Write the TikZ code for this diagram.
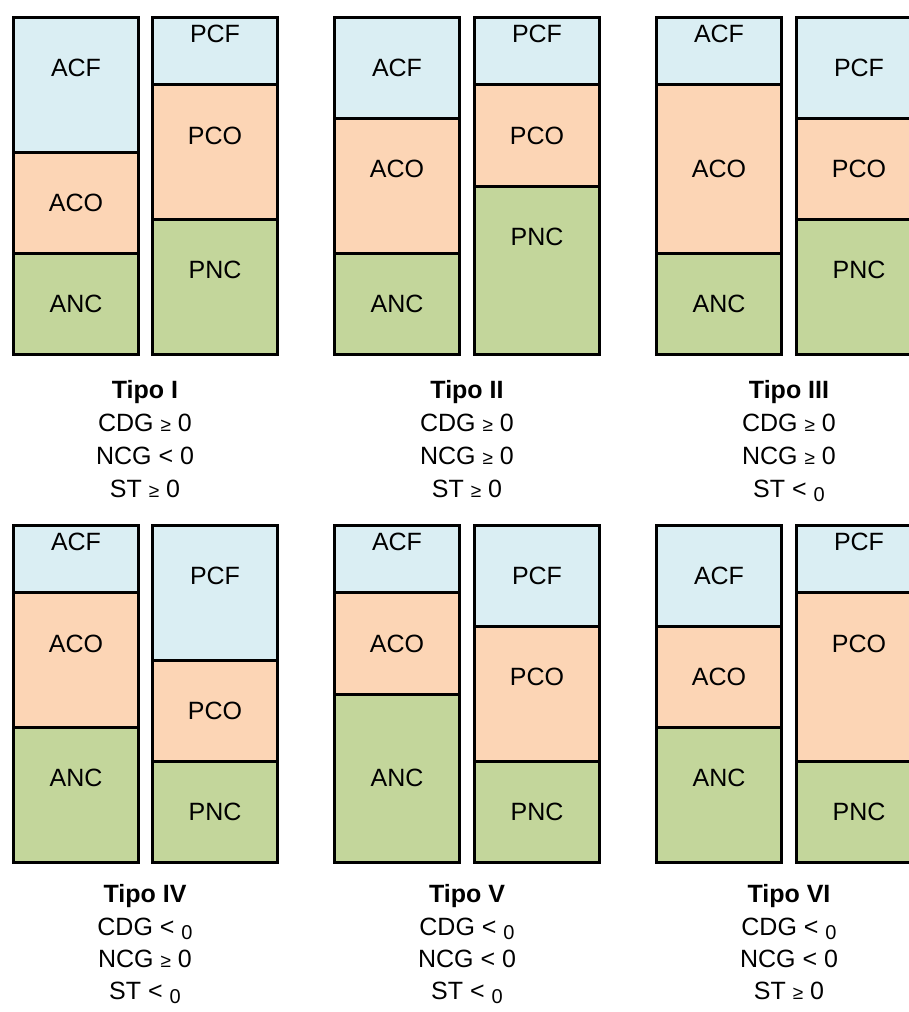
\documentclass[tikz,border=0pt]{standalone}
\usepackage{fontspec}
\setmainfont{Liberation Sans}
\definecolor{fixo}{HTML}{DAEEF3}
\definecolor{circ}{HTML}{FCD5B5}
\definecolor{ncirc}{HTML}{C3D69B}
% small relation signs and lowered zeros used in the conditions
\newcommand\sge{{\fontsize{19}{20}\selectfont ≥}}
\newcommand\szero{\raisebox{-4pt}{\fontsize{20}{20}\selectfont 0}}
% one column of a balance sheet: #1 prefix, #2 left x, #3 top y,
% list of from/to/colour/label/text position (in units of the column)
\newcommand\drawstack[4]{%
  \foreach \a/\b/\c/\t/\p in {#4}{%
    \draw[seg, fill=\c] ({#2},{#3+\a*33.7}) rectangle ({#2+125},{#3+\b*33.7});
    \node[lbl] (#1-\t) at ({#2+62.5},{#3+\p*33.7}) {\t};
  }}
\begin{document}
\begin{tikzpicture}[x=1pt,y=-1pt,
  seg/.style={draw=black, line width=3pt},
  lbl/.style={inner sep=0pt, font=\fontsize{25}{30}\selectfont},
  cond/.style={anchor=base, inner sep=0pt, font=\fontsize{25}{30}\selectfont}]
\useasboundingbox (0,0) rectangle (909,1012);
\fill[white] (0,0) rectangle (909,1012);
\clip (0,0) rectangle (909,1012);

% ---- Tipo I ----
\drawstack{IA}{13.5}{17.5}{0/4/fixo/ACF/1.5, 4/7/circ/ACO/5.5, 7/10/ncirc/ANC/8.5}
\drawstack{IP}{152.5}{17.5}{0/2/fixo/PCF/0.5, 2/6/circ/PCO/3.5, 6/10/ncirc/PNC/7.5}
% ---- Tipo II ----
\drawstack{IIA}{334.5}{17.5}{0/3/fixo/ACF/1.5, 3/7/circ/ACO/4.5, 7/10/ncirc/ANC/8.5}
\drawstack{IIP}{474.5}{17.5}{0/2/fixo/PCF/0.5, 2/5/circ/PCO/3.5, 5/10/ncirc/PNC/6.5}
% ---- Tipo III ----
\drawstack{IIIA}{656.5}{17.5}{0/2/fixo/ACF/0.5, 2/7/circ/ACO/4.5, 7/10/ncirc/ANC/8.5}
\drawstack{IIIP}{796.5}{17.5}{0/3/fixo/PCF/1.5, 3/6/circ/PCO/4.5, 6/10/ncirc/PNC/7.5}
% ---- Tipo IV ----
\drawstack{IVA}{13.5}{525.5}{0/2/fixo/ACF/0.5, 2/6/circ/ACO/3.5, 6/10/ncirc/ANC/7.5}
\drawstack{IVP}{152.5}{525.5}{0/4/fixo/PCF/1.5, 4/7/circ/PCO/5.5, 7/10/ncirc/PNC/8.5}
% ---- Tipo V ----
\drawstack{VA}{334.5}{525.5}{0/2/fixo/ACF/0.5, 2/5/circ/ACO/3.5, 5/10/ncirc/ANC/7.5}
\drawstack{VP}{474.5}{525.5}{0/3/fixo/PCF/1.5, 3/7/circ/PCO/4.5, 7/10/ncirc/PNC/8.5}
% ---- Tipo VI ----
\drawstack{VIA}{656.5}{525.5}{0/3/fixo/ACF/1.5, 3/6/circ/ACO/4.5, 6/10/ncirc/ANC/7.5}
\drawstack{VIP}{796.5}{525.5}{0/2/fixo/PCF/0.5, 2/7/circ/PCO/3.5, 7/10/ncirc/PNC/8.5}

% ---- conditions under each type ----
\node[cond] (tI)   at (145,398) {\textbf{Tipo I}};
\node[cond] (cI)   at (145,431) {CDG \sge\ 0};
\node[cond] (nI)   at (145,464) {NCG < 0};
\node[cond] (sI)   at (145,497) {ST \sge\ 0};

\node[cond] (tII)  at (467,398) {\textbf{Tipo II}};
\node[cond] (cII)  at (467,431) {CDG \sge\ 0};
\node[cond] (nII)  at (467,464) {NCG \sge\ 0};
\node[cond] (sII)  at (467,497) {ST \sge\ 0};

\node[cond] (tIII) at (789,398) {\textbf{Tipo III}};
\node[cond] (cIII) at (789,431) {CDG \sge\ 0};
\node[cond] (nIII) at (789,464) {NCG \sge\ 0};
\node[cond] (sIII) at (789,497) {ST < \szero};

\node[cond] (tIV)  at (145,902) {\textbf{Tipo IV}};
\node[cond] (cIV)  at (145,935) {CDG < \szero};
\node[cond] (nIV)  at (145,967) {NCG \sge\ 0};
\node[cond] (sIV)  at (145,999) {ST < \szero};

\node[cond] (tV)   at (467,902) {\textbf{Tipo V}};
\node[cond] (cV)   at (467,935) {CDG < \szero};
\node[cond] (nV)   at (467,967) {NCG < 0};
\node[cond] (sV)   at (467,999) {ST < \szero};

\node[cond] (tVI)  at (789,902) {\textbf{Tipo VI}};
\node[cond] (cVI)  at (789,935) {CDG < \szero};
\node[cond] (nVI)  at (789,967) {NCG < 0};
\node[cond] (sVI)  at (789,999) {ST \sge\ 0};
\end{tikzpicture}
\end{document}
